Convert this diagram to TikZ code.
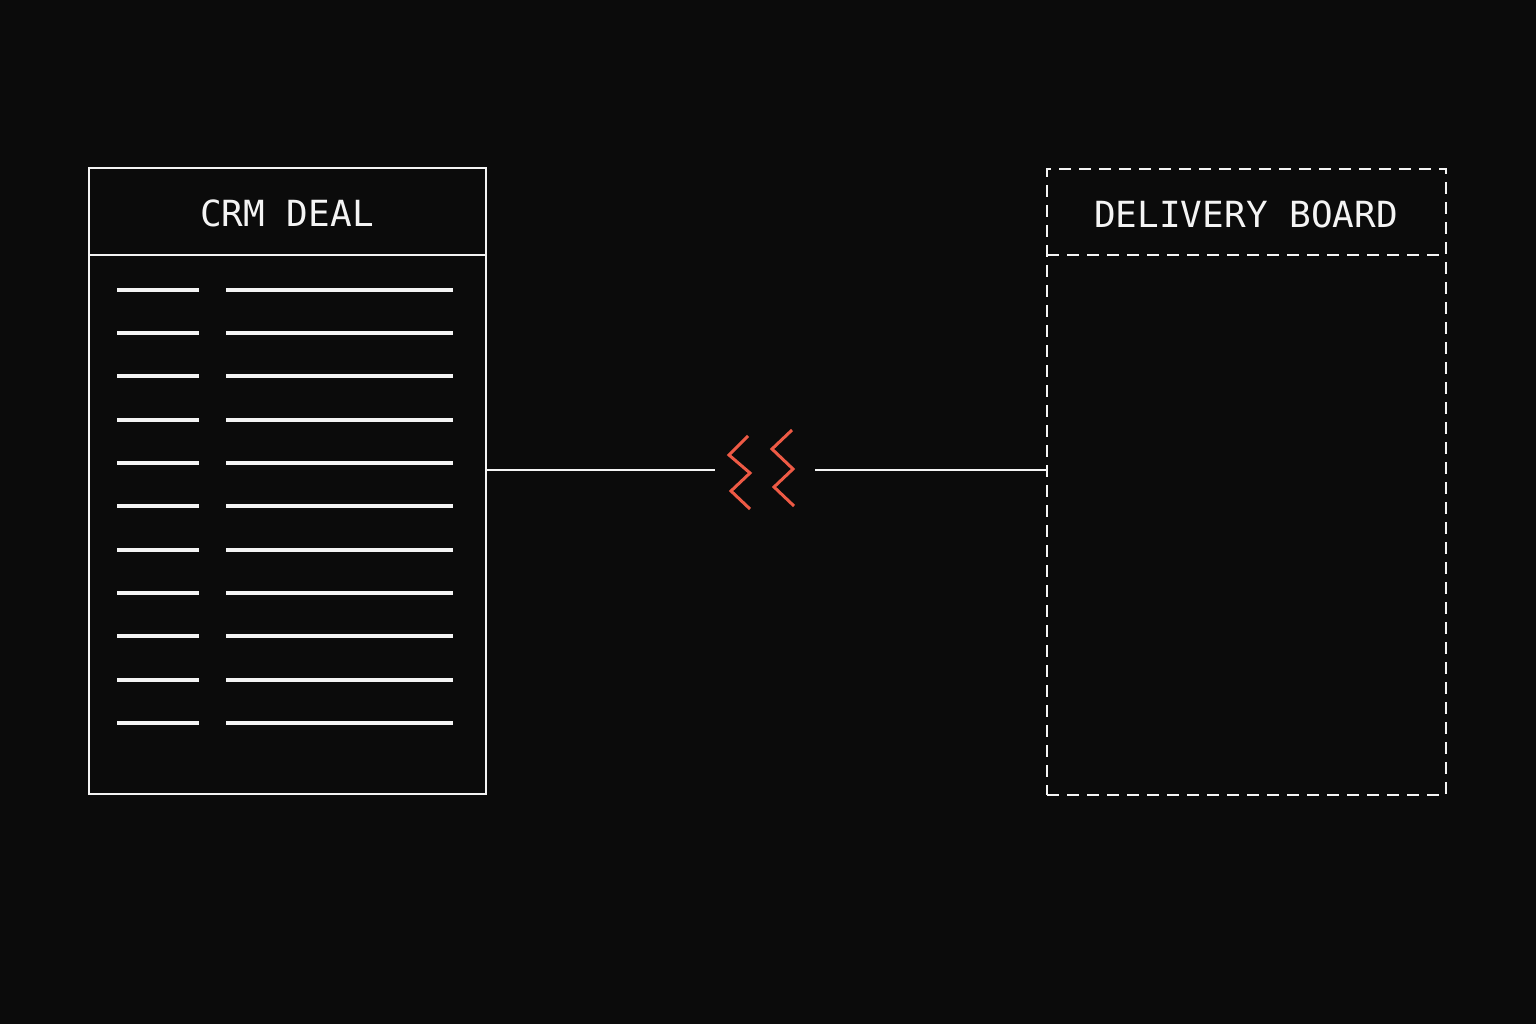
\documentclass[tikz,border=0pt]{standalone}
\usepackage{fontspec}
\setmonofont{DejaVu Sans Mono}
\definecolor{bg}{HTML}{0B0B0B}
\definecolor{fg}{HTML}{F4F4F4}
\definecolor{zig}{HTML}{EE5A45}
\begin{document}
\begin{tikzpicture}[x=1pt,y=-1pt,
  panel/.style={draw=fg,line width=2.2pt,minimum width=397pt,minimum height=626pt,inner sep=0pt},
  dpanel/.style={draw=fg,line width=2.2pt,dash pattern=on 12pt off 8pt,minimum width=399pt,minimum height=626pt,inner sep=0pt},
  title/.style={text=fg,font=\ttfamily\fontsize{36}{40}\selectfont,anchor=center},
  row/.style={fg,line width=4pt},
  link/.style={fg,line width=2pt},
  zz/.style={zig,line width=3pt,line join=miter}]
\useasboundingbox[fill=bg] (0,0) rectangle (1536,1024);
% left panel
\node[panel] (crm) at (287.5,481) {};
\draw[fg,line width=2.2pt] (89,255) -- (486,255);
\node[title] (crmt) at (287,213) {CRM DEAL};
\foreach \y in {290,333,376,420,463,506,550,593,636,680,723}{
  \draw[row] (117,\y) -- (199,\y);
  \draw[row] (226,\y) -- (453,\y);
}
% right panel
\node[dpanel] (dlv) at (1246.5,482) {};
\draw[fg,line width=2.2pt,dash pattern=on 12pt off 8pt] (1047,255) -- (1446,255);
\node[title] (dlvt) at (1246,214) {DELIVERY BOARD};
% connector
\coordinate (gapL) at (715,470);
\coordinate (gapR) at (815,470);
\draw[link] (crm.east |- gapL) -- (gapL);
\draw[link] (gapR) -- (dlv.west |- gapR);
% break zigzags
\draw[zz] (748,436) -- (729,455) -- (750,473) -- (731,491) -- (750,509);
\draw[zz] (792,430) -- (772,449) -- (793,469) -- (774,487) -- (794,506);
\end{tikzpicture}
\end{document}
